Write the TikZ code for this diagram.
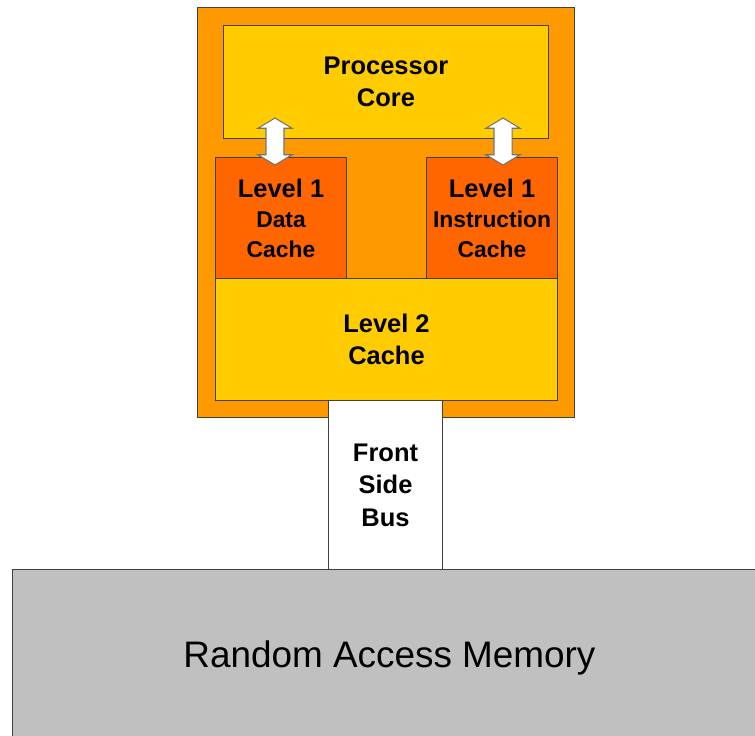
\documentclass[tikz,border=0pt]{standalone}
\usepackage{fontspec}
\setmainfont{Liberation Sans}
\usetikzlibrary{shapes.arrows, positioning}
\definecolor{naranja}{HTML}{FF9900}
\definecolor{amarillo}{HTML}{FFCC00}
\definecolor{rojizo}{HTML}{FF6600}
\definecolor{gris}{HTML}{C0C0C0}
\tikzset{
	x=0.02cm, y=-0.02cm, % Un pixel de la imagen
	caja/.style={rectangle, draw=black!75, line width=0.6pt, inner sep=0pt,
		anchor=north west, align=center,
		font=\bfseries\fontsize{14.5}{18.5}\selectfont}, % Cajas del procesador
	chica/.style={font=\bfseries\fontsize{14.5}{17}\selectfont}, % Texto de la cache L1
	flecha/.style={double arrow, draw=black!55, fill=white, line width=0.6pt,
		rotate=90, inner xsep=0pt, inner ysep=0.17cm, minimum height=0.94cm,
		double arrow head extend=0.16cm, double arrow tip angle=118} % Flechas gruesas
}

\begin{document}
\begin{tikzpicture}
	\clip (0,0) rectangle (755,735);
	\node[caja, fill=naranja, minimum width=7.54cm, minimum height=8.2cm] (chip) at (197,7) {};
	\node[caja, fill=amarillo, minimum width=6.5cm, minimum height=2.26cm] (core) at (223,25) {Processor\\Core};
	\node[caja, chica, fill=rojizo, minimum width=2.62cm, minimum height=2.42cm] (l1d) at (215,157)
		{Level 1\\{\fontsize{13}{17}\selectfont Data}\\{\fontsize{13}{17}\selectfont Cache}};
	\node[caja, chica, fill=rojizo, minimum width=2.62cm, minimum height=2.42cm] (l1i) at (426,157)
		{Level 1\\{\fontsize{13}{17}\selectfont Instruction}\\{\fontsize{13}{17}\selectfont Cache}};
	\node[caja, fill=amarillo, minimum width=6.84cm, minimum height=2.44cm] (l2) at (215,278) {Level 2\\Cache};
	\node[caja, fill=white, minimum width=2.28cm, minimum height=3.38cm] (fsb) at (328,400) {Front\\Side\\Bus};
	\node[caja, fill=gris, minimum width=15.08cm, minimum height=3.52cm,
		font=\fontsize{21}{25}\selectfont] (ram) at (12,569) {Random Access Memory};
	\node[flecha] (fd) at (275,141.5) {};
	\node[flecha] (fi) at (503,141.5) {};
\end{tikzpicture}
\end{document}
